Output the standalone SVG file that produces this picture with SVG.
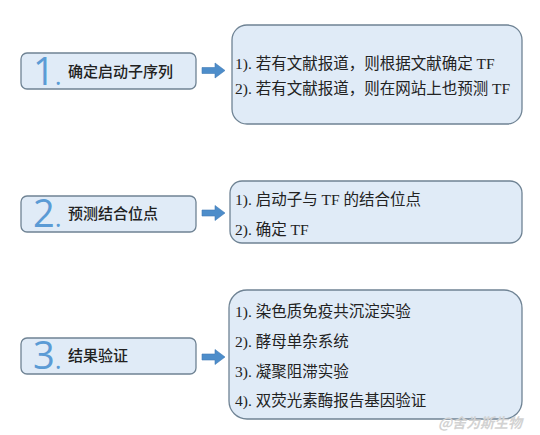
<svg xmlns="http://www.w3.org/2000/svg" width="540" height="435" viewBox="0 0 540 435">
<style>
.lbox{fill:#e0ebf7;stroke:#6f8394;stroke-width:1.3}
.rbox{fill:#e0ebf7;stroke:#6f8394;stroke-width:1.3}
.num{font-family:"Open Sans","DejaVu Sans",sans-serif;font-size:38px;fill:#5b9bd5}
.dot{font-size:26px}
.lt{font-family:"Liberation Serif","Noto Sans CJK SC",serif;font-size:15px;fill:#222;font-weight:500}
.rt{font-family:"Liberation Serif","Noto Sans CJK SC",serif;font-size:15.5px;fill:#222}
.arr{fill:#4d8dca;stroke:#3f7bb5;stroke-width:0.6}
.wm{font-family:"Noto Sans CJK SC",sans-serif;font-size:14px;fill:#d2d2d2;font-style:italic;font-weight:bold}
</style>
<rect width="540" height="435" fill="#ffffff"/>
<g id="step1">
<rect class="lbox" x="21" y="53" width="175" height="36" rx="6"/>
<text class="num" x="33" y="85">1<tspan class="dot">.</tspan></text>
<text class="lt" x="68" y="77">确定启动子序列</text>
</g>
<g id="detail1">
<rect class="rbox" x="232" y="25" width="290" height="99" rx="15"/>
<text class="rt" x="235" y="69">1). 若有文献报道，则根据文献确定 TF</text>
<text class="rt" x="235" y="94">2). 若有文献报道，则在网站上也预测 TF</text>
</g>
<g id="step2">
<rect class="lbox" x="21" y="196" width="175" height="36" rx="6"/>
<text class="num" x="33" y="227">2<tspan class="dot">.</tspan></text>
<text class="lt" x="68" y="219">预测结合位点</text>
</g>
<g id="detail2">
<rect class="rbox" x="230" y="181" width="292" height="62" rx="12"/>
<text class="rt" x="235" y="205">1). 启动子与 TF 的结合位点</text>
<text class="rt" x="235" y="235">2). 确定 TF</text>
</g>
<g id="step3">
<rect class="lbox" x="21" y="338" width="175" height="36" rx="6"/>
<text class="num" x="33" y="369">3<tspan class="dot">.</tspan></text>
<text class="lt" x="68" y="361">结果验证</text>
</g>
<g id="detail3">
<rect class="rbox" x="229" y="290" width="293" height="129" rx="18"/>
<text class="rt" x="235" y="317">1). 染色质免疫共沉淀实验</text>
<text class="rt" x="235" y="347">2). 酵母单杂系统</text>
<text class="rt" x="235" y="377">3). 凝聚阻滞实验</text>
<text class="rt" x="235" y="406">4). 双荧光素酶报告基因验证</text>
</g>
<g id="connectors">
<path class="arr" d="M202,67.5 H215 V63 L225,70.5 L215,78 V73.5 H202 Z"/>
<path class="arr" d="M202,210 H215 V205.5 L225,213 L215,220.5 V216 H202 Z"/>
<path class="arr" d="M202,354 H215 V349.5 L225,357 L215,364.5 V360 H202 Z"/>
</g>
<text class="wm" x="438" y="428">@舍为斯生物</text>
</svg>
